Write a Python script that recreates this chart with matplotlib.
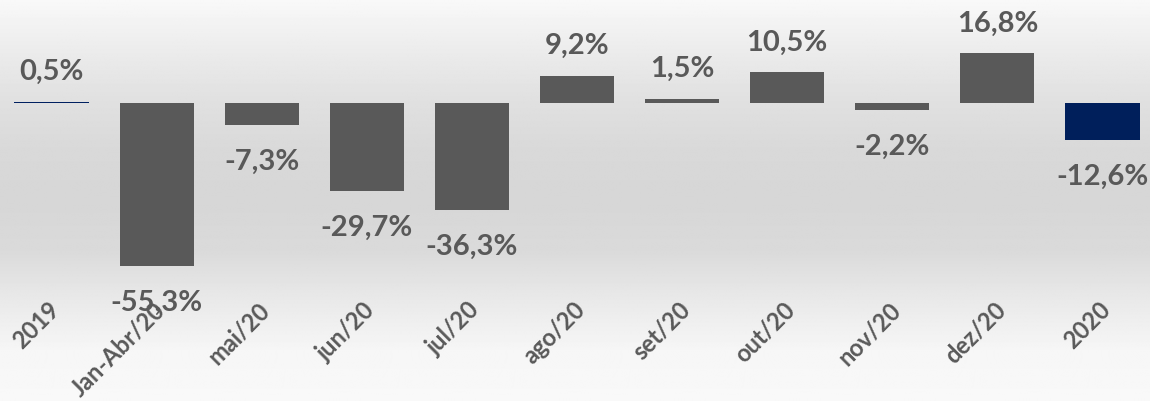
import numpy as np
import matplotlib.pyplot as plt
import matplotlib.transforms as mtransforms

# dados do gráfico
categorias = ["2019", "Jan-Abr/20", "mai/20", "jun/20", "jul/20", "ago/20",
              "set/20", "out/20", "nov/20", "dez/20", "2020"]
variacao = [0.5, -55.3, -7.3, -29.7, -36.3, 9.2, 1.5, 10.5, -2.2, 16.8, -12.6]
rotulos = ["0,5%", "-55,3%", "-7,3%", "-29,7%", "-36,3%", "9,2%",
           "1,5%", "10,5%", "-2,2%", "16,8%", "-12,6%"]

cinza = "#595959"
azul = "#002060"
cores = [azul] + [cinza] * 9 + ["#001F5B"]

plt.rcParams['font.family'] = ['Lato', 'DejaVu Sans']

fig = plt.figure(figsize=(11.5, 4.02), dpi=100)

# fundo com degradê vertical
bg = fig.add_axes([0, 0, 1, 1])
bg.set_axis_off()
niveis = np.array([0.975, 0.925, 0.88, 0.85, 0.84, 0.855, 0.915, 0.965, 0.975])
pos = np.linspace(0, 1, len(niveis))
yy = np.linspace(0, 1, 400)
grad = np.interp(yy, pos, niveis)
bg.imshow(np.tile(grad[:, None], (1, 10)), cmap="gray", vmin=0, vmax=1,
          aspect="auto", extent=[0, 1, 1, 0])
bg.set_xlim(0, 1)
bg.set_ylim(1, 0)

ax = fig.add_axes([0, 1 - 300 / 402, 1, 300 / 402])
ax.patch.set_alpha(0)
x = np.arange(len(categorias))
ax.bar(x, variacao, width=0.705, color=cores, zorder=3)

for xi, v, r in zip(x, variacao, rotulos):
    off = 22 if v >= 0 else -26
    ax.annotate(r, (xi, v), xytext=(0, off), textcoords="offset points",
                ha="center", va="center", fontsize=21, fontweight="bold",
                color=cinza, zorder=4)

trans = mtransforms.blended_transform_factory(ax.transData, ax.transAxes)
for xi, c in zip(x, categorias):
    ax.text(xi + 0.04, -0.02, c, transform=trans, rotation=45,
            rotation_mode="anchor", ha="right", va="center",
            fontsize=17, fontweight="bold", color=cinza)

ax.set_xlim(-0.49, 10.452)
ax.set_ylim(-66.4, 35.25)
ax.set_axis_off()

fig.savefig("out.png", dpi=100)
